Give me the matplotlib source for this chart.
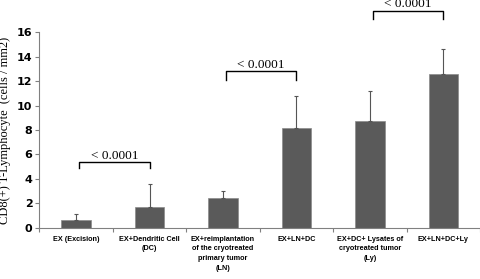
import numpy as np
import matplotlib
matplotlib.use("Agg")
import matplotlib.pyplot as plt

categories = ["EX (Excision)", "EX+Dendritic Cell\n(DC)",
              "EX+reimplantation\nof the cryotreated\nprimary tumor\n(LN)",
              "EX+LN+DC", "EX+DC+ Lysates of\ncryotreated tumor\n(Ly)", "EX+LN+DC+Ly"]
means = [0.65, 1.72, 2.45, 8.2, 8.7, 12.55]
errors = [0.45, 1.9, 0.6, 2.55, 2.45, 2.1]
yticks = [0, 2, 4, 6, 8, 10, 12, 14, 16]

# significance brackets: (left bar, right bar, height, drop)
brackets = [(0, 1, 5.4, 0.5), (2, 3, 12.8, 0.7), (4, 5, 17.75, 0.65)]
p_label = "< 0.0001"

fig = plt.figure(figsize=(4.81, 2.79), dpi=100)
ax = fig.add_axes([0.082, 0.183, 0.916, 0.702])

x = np.arange(len(categories))
ax.bar(x, means, width=0.4, color="#5a5a5a", edgecolor="#8a8a8a", linewidth=0.5, zorder=2)
ax.errorbar(x, means, yerr=[np.zeros(len(errors)), errors], fmt="none",
            ecolor="#555555", elinewidth=0.8, capsize=1.5, capthick=0.8, zorder=3)

for i, j, h, d in brackets:
    xl, xr = i + 0.04, j + 0.0
    ax.plot([xl, xl, xr, xr], [h - d, h, h, h - d], color="black", lw=1.0,
            clip_on=False, zorder=4)
    ax.text((xl + xr) / 2, h + 0.02, p_label, ha="center", va="bottom",
            family="Liberation Serif", fontsize=9.5, clip_on=False)

ax.set_xlim(-0.5, len(categories) - 0.5)
ax.set_ylim(0, 16)
ax.set_yticks(yticks)
ax.set_yticklabels([str(t) for t in yticks], fontsize=8, fontweight="bold")

ax.set_xticks(x)
ax.set_xticklabels(categories, fontsize=5.2, fontweight="bold", family="Liberation Sans",
                   linespacing=1.55, va="top")
ax.tick_params(axis="x", length=0, pad=5.5)
ax.set_xticks(np.arange(len(categories) + 1) - 0.5, minor=True)
ax.tick_params(axis="x", which="minor", length=3, width=0.8, color="#808080")
ax.tick_params(axis="y", length=3, width=0.8, color="#808080", pad=2)

for s in ["top", "right"]:
    ax.spines[s].set_visible(False)
for s in ["left", "bottom"]:
    ax.spines[s].set_color("#808080")
    ax.spines[s].set_linewidth(0.8)

ax.set_ylabel("CD8(+) T-Lymphocyte  (cells / mm2)", family="Liberation Serif",
              fontsize=9, labelpad=4)

fig.savefig("out.png", dpi=100)
